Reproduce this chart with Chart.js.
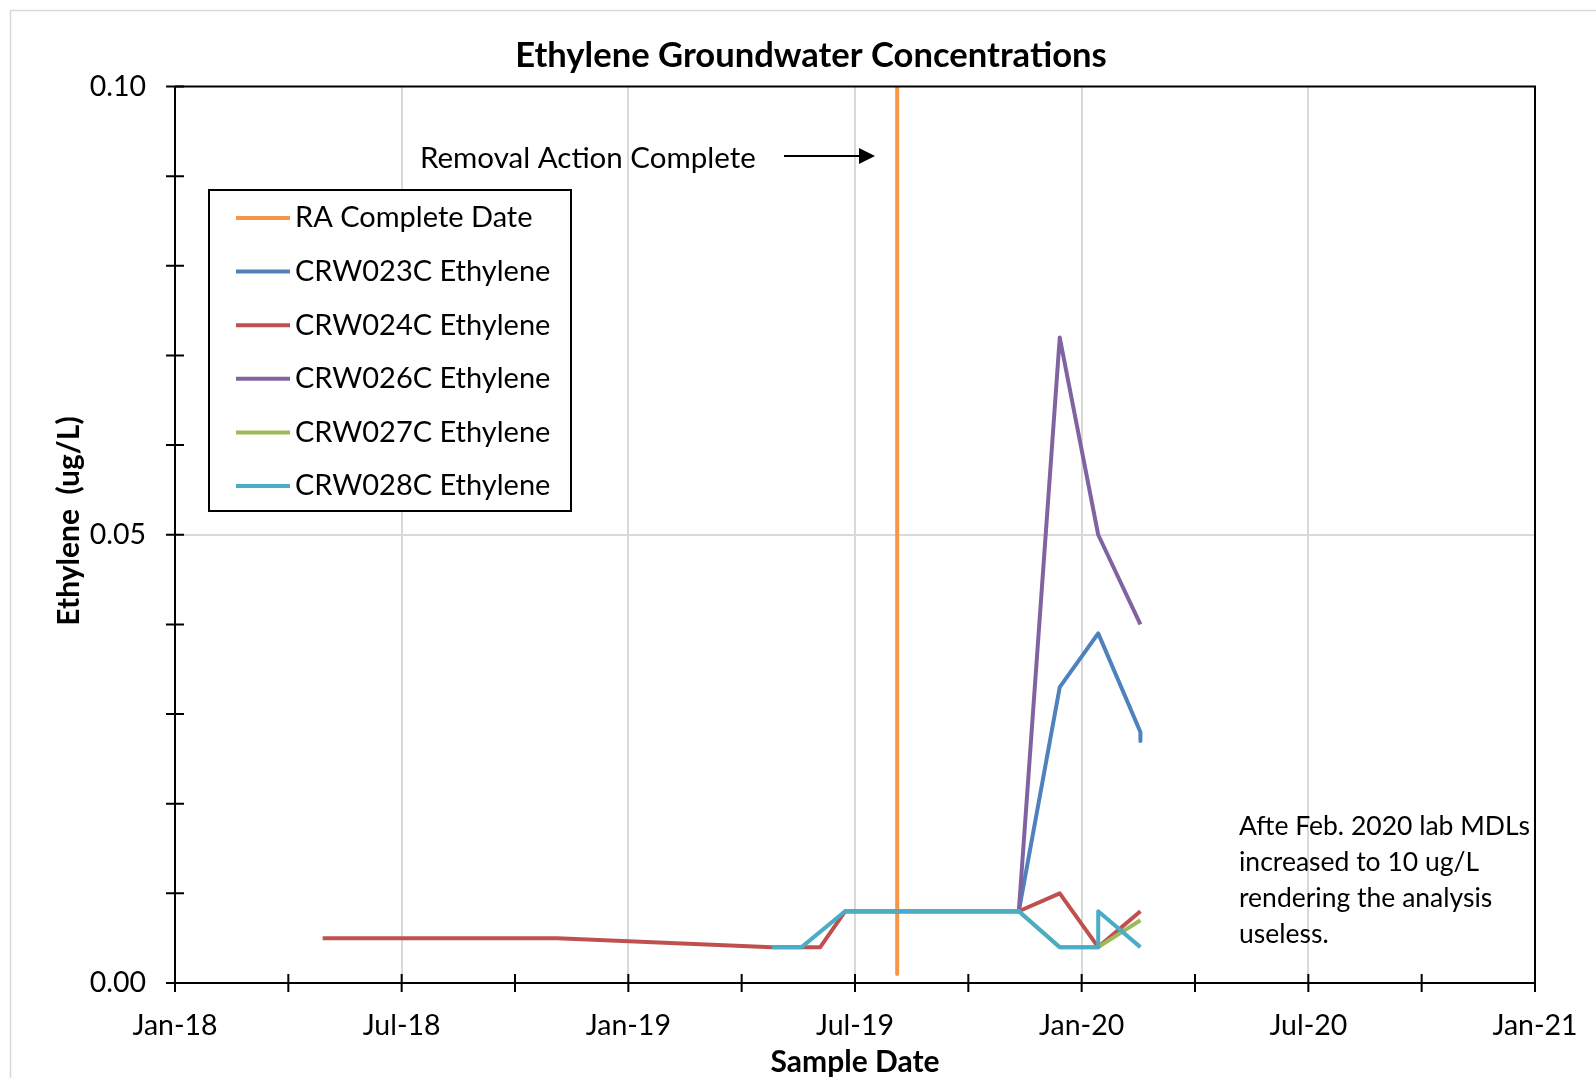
<!DOCTYPE html>
<html>
<head>
<meta charset="utf-8">
<script src="https://cdn.jsdelivr.net/npm/chart.js@4.4.1/dist/chart.umd.min.js"></script>
<style>
  html, body { margin: 0; padding: 0; background: #fff; }
  #wrap { position: relative; width: 1596px; height: 1078px; }
</style>
</head>
<body>
<div id="wrap"><canvas id="chart" width="1596" height="1078"></canvas></div>
<script>
// axis labels
const xTickLabels = ["Jan-18", "Jul-18", "Jan-19", "Jul-19", "Jan-20", "Jul-20", "Jan-21"];
const yTickLabels = ["0.00", "0.05", "0.10"];

// series (sample dates + ug/L)
const raDates = ["2019-08-06", "2019-08-06"];
const raValues = [0.1, 0.001];

const crw023Dates = ["2019-06-25", "2019-11-12", "2019-12-15", "2020-01-15", "2020-02-18", "2020-02-18"];
const crw023Values = [0.008, 0.008, 0.033, 0.039, 0.028, 0.027];

const crw024Dates = ["2018-04-30", "2018-11-05", "2019-04-27", "2019-06-05", "2019-06-25", "2019-11-12", "2019-12-15", "2020-01-15", "2020-02-18"];
const crw024Values = [0.005, 0.005, 0.004, 0.004, 0.008, 0.008, 0.010, 0.004, 0.008];

const crw026Dates = ["2019-06-25", "2019-11-12", "2019-12-15", "2020-01-15", "2020-02-18"];
const crw026Values = [0.008, 0.008, 0.072, 0.050, 0.040];

const crw027Dates = ["2019-06-25", "2019-11-12", "2019-12-15", "2020-01-15", "2020-02-18"];
const crw027Values = [0.008, 0.008, 0.004, 0.004, 0.007];

const crw028Dates = ["2019-04-27", "2019-05-21", "2019-06-25", "2019-11-12", "2019-12-15", "2020-01-15", "2020-01-15", "2020-02-18"];
const crw028Values = [0.004, 0.004, 0.008, 0.008, 0.004, 0.004, 0.008, 0.004];

const noteLines = ["Afte Feb. 2020 lab MDLs", "increased to 10 ug/L", "rendering the analysis", "useless."];

const FONT = "Lato, 'Open Sans', sans-serif";
const DAY0 = Date.parse("2018-01-01");
const SPAN = (Date.parse("2021-01-01") - DAY0) / 86400000;

function toDay(s) {
  return (Date.parse(s) - DAY0) / 86400000;
}

function points(dates, values) {
  return dates.map((d, i) => ({ x: toDay(d), y: values[i] }));
}

function series(label, dates, values, color, order) {
  return {
    label,
    data: points(dates, values),
    borderColor: color,
    backgroundColor: color,
    borderWidth: 4,
    pointRadius: 0,
    showLine: true,
    borderJoinStyle: "round",
    order,
  };
}

const decorations = {
  id: "decorations",
  beforeDraw(chart) {
    const ctx = chart.ctx;
    ctx.save();
    ctx.fillStyle = "#fff";
    ctx.fillRect(0, 0, chart.width, chart.height);
    ctx.strokeStyle = "#d9d9d9";
    ctx.lineWidth = 1.5;
    ctx.strokeRect(10.5, 10.5, chart.width + 20, chart.height + 20);
    ctx.restore();
  },
  afterDatasetsDraw(chart) {
    const ctx = chart.ctx;
    const ca = chart.chartArea;
    const xs = chart.scales.x;
    const ys = chart.scales.y;
    ctx.save();

    // plot border top/right
    ctx.strokeStyle = "#000";
    ctx.lineWidth = 2;
    ctx.beginPath();
    ctx.moveTo(ca.left, ca.top);
    ctx.lineTo(ca.right, ca.top);
    ctx.lineTo(ca.right, ca.bottom);
    ctx.stroke();

    // cross tick marks
    ctx.beginPath();
    xs.ticks.forEach((t) => {
      const px = xs.getPixelForValue(t.value);
      ctx.moveTo(px, ca.bottom - 9);
      ctx.lineTo(px, ca.bottom + 9);
    });
    ys.ticks.forEach((t) => {
      const py = ys.getPixelForValue(t.value);
      ctx.moveTo(ca.left - 9, py);
      ctx.lineTo(ca.left + 9, py);
    });
    ctx.stroke();

    // title
    ctx.fillStyle = "#000";
    ctx.textBaseline = "middle";
    ctx.textAlign = "center";
    ctx.font = "bold 34.6px " + FONT;
    ctx.fillText("Ethylene Groundwater Concentrations", 811, 56);

    // y title
    ctx.save();
    ctx.translate(69, 521);
    ctx.rotate(-Math.PI / 2);
    ctx.font = "bold 30px " + FONT;
    ctx.fillText("Ethylene  (ug/L)", 0, 0);
    ctx.restore();

    // legend box
    ctx.fillStyle = "#fff";
    ctx.fillRect(209, 190, 362, 321);
    ctx.strokeStyle = "#000";
    ctx.lineWidth = 2;
    ctx.strokeRect(209, 190, 362, 321);
    ctx.font = "29px " + FONT;
    ctx.textAlign = "left";
    chart.data.datasets.forEach((ds, i) => {
      const y = 218 + i * 53.6;
      ctx.strokeStyle = ds.borderColor;
      ctx.lineWidth = 4;
      ctx.beginPath();
      ctx.moveTo(236, y);
      ctx.lineTo(290, y);
      ctx.stroke();
      ctx.fillStyle = "#000";
      ctx.fillText(ds.label, 295, y);
    });

    // removal action annotation
    ctx.font = "29.5px " + FONT;
    ctx.fillText("Removal Action Complete", 420, 158);
    ctx.strokeStyle = "#000";
    ctx.lineWidth = 2;
    ctx.beginPath();
    ctx.moveTo(784, 156);
    ctx.lineTo(862, 156);
    ctx.stroke();
    ctx.beginPath();
    ctx.moveTo(875, 156);
    ctx.lineTo(859, 148);
    ctx.lineTo(859, 164);
    ctx.closePath();
    ctx.fill();

    // note
    ctx.font = "26.5px " + FONT;
    noteLines.forEach((line, i) => {
      ctx.fillText(line, 1239, 826 + i * 36);
    });

    ctx.restore();
  },
};

const chart = new Chart(document.getElementById("chart"), {
  type: "scatter",
  data: {
    datasets: [
      series("RA Complete Date", raDates, raValues, "#F79646", 6),
      series("CRW023C Ethylene", crw023Dates, crw023Values, "#4F81BD", 5),
      series("CRW024C Ethylene", crw024Dates, crw024Values, "#C0504D", 4),
      series("CRW026C Ethylene", crw026Dates, crw026Values, "#8064A2", 3),
      series("CRW027C Ethylene", crw027Dates, crw027Values, "#9BBB59", 2),
      series("CRW028C Ethylene", crw028Dates, crw028Values, "#4BACC6", 1),
    ],
  },
  options: {
    responsive: false,
    animation: false,
    devicePixelRatio: 1,
    layout: { padding: { left: 0, top: 86.5, right: 61, bottom: 0 } },
    plugins: {
      legend: { display: false },
      tooltip: { enabled: false },
    },
    scales: {
      x: {
        type: "linear",
        min: 0,
        max: SPAN,
        afterBuildTicks: (scale) => {
          scale.ticks = Array.from({ length: 13 }, (_, k) => ({ value: (k * SPAN) / 12 }));
        },
        afterFit: (scale) => {
          scale.height = 95;
          scale.paddingLeft = 0;
          scale.paddingRight = 0;
        },
        ticks: {
          autoSkip: false,
          maxRotation: 0,
          padding: 26,
          color: "#000",
          font: { family: FONT, size: 28.5 },
          callback: (v, i) => (i % 2 === 0 ? xTickLabels[i / 2] : ""),
        },
        grid: {
          drawTicks: false,
          lineWidth: 2,
          color: (c) => (c.index % 2 === 0 && c.index > 0 ? "#d9d9d9" : "rgba(0,0,0,0)"),
        },
        border: { display: true, color: "#000", width: 2 },
        title: {
          display: true,
          text: "Sample Date",
          color: "#000",
          font: { family: FONT, size: 30, weight: "bold", lineHeight: 1 },
          padding: { top: 0, bottom: 1 },
        },
      },
      y: {
        min: 0,
        max: 0.1,
        afterBuildTicks: (scale) => {
          scale.ticks = Array.from({ length: 11 }, (_, k) => ({ value: k / 100 }));
        },
        afterFit: (scale) => { scale.width = 175; },
        ticks: {
          autoSkip: false,
          padding: 29,
          color: "#000",
          font: { family: FONT, size: 28.5 },
          callback: (v, i) => (i % 5 === 0 ? yTickLabels[i / 5] : ""),
        },
        grid: {
          drawTicks: false,
          lineWidth: 2,
          color: (c) => (c.index === 5 ? "#d9d9d9" : "rgba(0,0,0,0)"),
        },
        border: { display: true, color: "#000", width: 2 },
      },
    },
  },
  plugins: [decorations],
});
</script>
</body>
</html>
